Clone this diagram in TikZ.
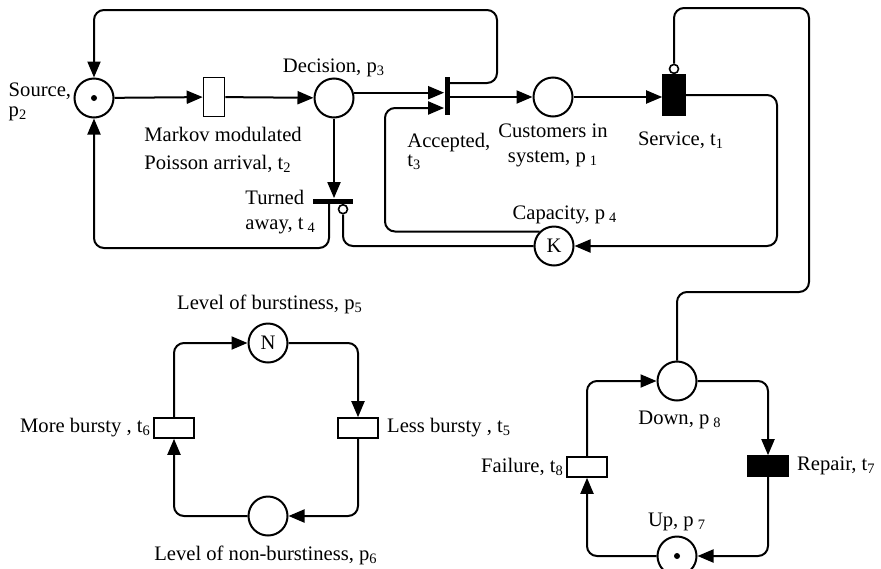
\documentclass[tikz,border=0pt]{standalone}
\usepackage{fontspec}
\setmainfont{Liberation Serif}
\usetikzlibrary{arrows.meta,positioning}
\begin{document}
\begin{tikzpicture}[x=0.5pt,y=-0.5pt,font=\fontsize{10.3}{12.4}\selectfont]

%
% Styles
%
\tikzstyle{place}  = [circle,draw,line width=1pt,minimum size=19.5pt,inner sep=0pt]
\tikzstyle{token}  = [circle,fill,minimum size=3pt,inner sep=0pt]
\tikzstyle{trans}  = [rectangle,draw,line width=0.8pt,fill=white,inner sep=0pt]
\tikzstyle{vtrans} = [trans,minimum width=10.5pt,minimum height=19.5pt]
\tikzstyle{htrans} = [trans,minimum width=20pt,minimum height=10pt]
\tikzstyle{immed}  = [rectangle,fill,inner sep=0pt]
\tikzstyle{inhib}  = [circle,draw,line width=0.8pt,fill=white,minimum size=4.5pt,inner sep=0pt]
\tikzstyle{lbl}    = [inner sep=1pt]

\tikzstyle{edge}   = [-{Triangle[length=8pt,width=6.5pt]},line width=1pt,rounded corners=5pt]
\tikzstyle{wire}   = [line width=1pt,rounded corners=5pt]

\useasboundingbox (0,0) rectangle (881,568);

% places
\node[place] (p2) at (94,98)   {};
\node[token] (tok2) at (p2)    {};
\node[place] (p3) at (334,98)  {};
\node[place] (p1) at (553,97)  {};
\node[place] (p4) at (554,246) {K};
\node[place] (p5) at (268,343) {N};
\node[place] (p6) at (268,516) {};
\node[place] (p8) at (677,381) {};
\node[place] (p7) at (677,556) {};
\node[token] (tok7) at (p7)    {};

% transitions
\node[vtrans] (t2) at (214,97) {};
\node[immed,minimum width=2.5pt,minimum height=19pt] (t3) at (447,96)  {};
\node[immed,minimum width=20pt,minimum height=2.5pt] (t4) at (333,201) {};
\node[vtrans,fill=black,minimum width=11pt,minimum height=20pt] (t1) at (674,95) {};
\node[htrans] (t5) at (358,428) {};
\node[htrans] (t6) at (174,428) {};
\node[htrans,fill=black] (t7) at (768,466) {};
\node[htrans] (t8) at (587,467) {};
\node[inhib,anchor=north] (i4) at ([xshift=5pt]t4.south) {};
\node[inhib,anchor=south] (i1) at (t1.north) {};

% labels
\node[lbl,align=left,anchor=east] (l2) at ([yshift=-2pt]p2.west) {Source,\\[-2.5pt]p\textsubscript{2}};
\node[lbl,align=left,anchor=west] (lt2) at (142,150) {Markov modulated\\[1.6pt]Poisson arrival, t\textsubscript{2}};
\node[lbl,above=-1pt of p3] (l3) {Decision, p\textsubscript{3}};
\node[lbl,align=left,anchor=north west] (lt3) at (405,131) {Accepted,\\[-3pt]t\textsubscript{3}};
\node[lbl,align=center] (l1) at (553,145) {Customers in\\system, p\kern2pt\textsubscript{1}};
\node[lbl] (lt1) at (681,140) {Service, t\textsubscript{1}};
\node[lbl] (l4) at (565,215) {Capacity, p\kern2pt\textsubscript{4}};
\node[lbl,align=left,anchor=west] (lt4) at (243,212) {Turned\\away, t\kern2pt\textsubscript{4}};
\node[lbl] (l5) at (270,304) {Level of burstiness, p\textsubscript{5}};
\node[lbl,anchor=east] (lt6) at (t6.west) {More bursty , t\textsubscript{6}};
\node[lbl,anchor=west,xshift=3pt] (lt5) at (t5.east) {Less bursty , t\textsubscript{5}};
\node[lbl] (l6) at (266,555) {Level of non-burstiness, p\textsubscript{6}};
\node[lbl] (l8) at (680,420) {Down, p\kern2pt\textsubscript{8}};
\node[lbl,anchor=west,xshift=3pt] (lt7) at (t7.east) {Repair, t\textsubscript{7}};
\node[lbl,anchor=east] (lt8) at (t8.west) {Failure, t\textsubscript{8}};
\node[lbl] (l7) at (677,522) {Up, p\kern2pt\textsubscript{7}};

% arrival and decision
\draw[edge] (p2) -- (t2);
\draw[edge] (t2) -- (p3);
\draw[edge] (p3.15) -- (p3.15 -| t3.west);
\draw[edge] (p3.south) -- (p3.south |- t4.north);
\draw[edge] ([yshift=6.5pt]t3.east) -| (497,10) -| (p2.north);
\draw[edge] ([xshift=-2pt]t4.south) |- (150,248) -| (p2.south);

% queue and capacity
\draw[edge] (t3.east |- p1.west) -- (p1.west);
\draw[edge] (p1.east) -- (p1.east -| t1.west);
\draw[edge] (t1.east) -| (777,170) |- (p4.east);
\draw[edge] (p4.135) -| (385,170) |- ([yshift=-6pt]t3.west);
\draw[wire] (p4.west) -| (i4.south);
\draw[wire] (p8.north) |- (809,292) -- (809,8) -| (i1.north);

% burstiness
\draw[edge] (t6.north) |- (p5.west);
\draw[edge] (p5.east) -| (t5.north);
\draw[edge] (t5.south) |- (p6.east);
\draw[edge] (p6.west) -| (t6.south);

% breakdowns
\draw[edge] (t8.north) |- (p8.west);
\draw[edge] (p8.east) -| (t7.north);
\draw[edge] (t7.south) |- (p7.east);
\draw[edge] (p7.west) -| (t8.south);

\end{tikzpicture}
\end{document}
